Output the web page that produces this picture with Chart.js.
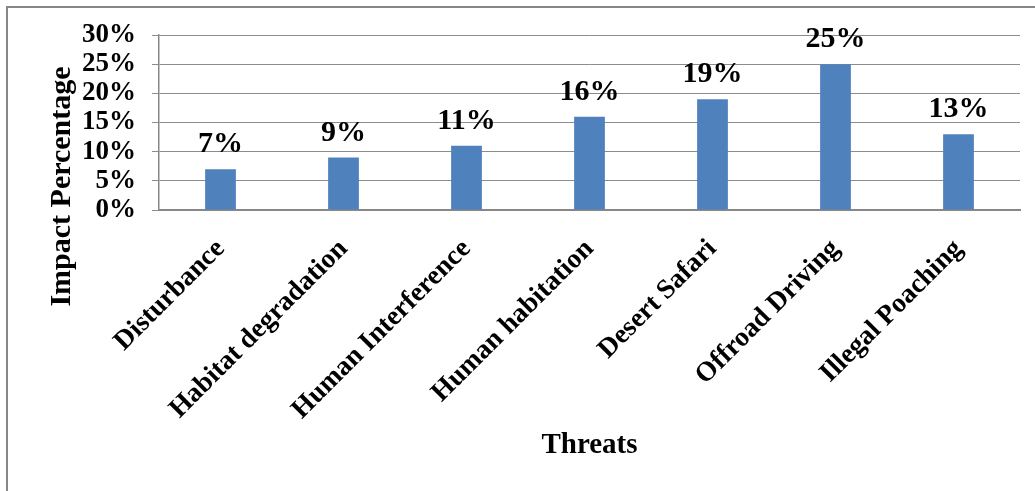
<!DOCTYPE html>
<html>
<head>
<meta charset="utf-8">
<script src="https://cdn.jsdelivr.net/npm/chart.js@4/dist/chart.umd.min.js"></script>
<style>
  html, body { margin: 0; padding: 0; background: #fff; overflow: hidden; }
  #wrap { position: relative; width: 1035px; height: 491px; }
  #frame { position: absolute; left: 6px; top: 6px; width: 2000px; height: 2000px;
           border-left: 2px solid #878787; border-top: 2px solid #878787; box-sizing: border-box; }
  canvas { position: absolute; left: 0; top: 0; }
</style>
</head>
<body>
<div id="wrap">
  <div id="frame"></div>
  <canvas id="c" width="1035" height="491"></canvas>
</div>
<script>
const categories = ['Disturbance', 'Habitat degradation', 'Human Interference', 'Human habitation', 'Desert Safari', 'Offroad Driving', 'Illegal Poaching'];
const impactValues = [7, 9, 11, 16, 19, 25, 13];
const yTickLabels = ['0%', '5%', '10%', '15%', '20%', '25%', '30%'];
const yTitle = 'Impact Percentage';
const xTitle = 'Threats';

const FONT = "'Liberation Serif', 'Times New Roman', serif";

const valueLabels = {
  id: 'valueLabels',
  afterDatasetsDraw(chart) {
    const ctx = chart.ctx;
    const meta = chart.getDatasetMeta(0);
    ctx.save();
    ctx.font = "bold 30px " + FONT;
    ctx.fillStyle = '#000';
    ctx.textAlign = 'center';
    ctx.textBaseline = 'alphabetic';
    meta.data.forEach((bar, i) => {
      ctx.fillText(impactValues[i] + '%', bar.x, bar.y - 17);
    });
    ctx.restore();
  }
};

// Y-axis title drawn beside the axis, centred a little below the plot middle as in the original
const yAxisTitle = {
  id: 'yAxisTitle',
  afterDraw(chart) {
    const ctx = chart.ctx;
    const y = chart.scales.y;
    ctx.save();
    ctx.font = "bold 30px " + FONT;
    ctx.fillStyle = '#000';
    ctx.textAlign = 'center';
    ctx.textBaseline = 'middle';
    ctx.translate(y.left + 62, (y.top + y.bottom) / 2 + 64);
    ctx.rotate(-Math.PI / 2);
    ctx.fillText(yTitle, 0, 0);
    ctx.restore();
  }
};

new Chart(document.getElementById('c'), {
  type: 'bar',
  data: {
    labels: categories,
    datasets: [{
      data: impactValues,
      backgroundColor: '#4F81BD',
      borderWidth: 0,
      barPercentage: 0.25,
      categoryPercentage: 1.0
    }]
  },
  options: {
    responsive: false,
    animation: false,
    devicePixelRatio: 1,
    layout: { padding: { left: 0, top: 35, right: 15, bottom: 0 } },
    plugins: { legend: { display: false }, tooltip: { enabled: false } },
    scales: {
      x: {
        grid: { display: false, drawTicks: false },
        border: { display: true, color: '#888888', width: 2 },
        ticks: {
          autoSkip: false, maxRotation: 45, minRotation: 45,
          color: '#000', padding: 23,
          font: { family: FONT, size: 27.5, weight: 'bold' }
        },
        title: {
          display: true, text: xTitle, color: '#000',
          font: { family: FONT, size: 29, weight: 'bold' },
          padding: { top: 0, bottom: 28 }
        },
        afterFit(scale) { scale.height = 281; }
      },
      y: {
        min: 0, max: 30,
        grid: { color: '#8c8c8c', lineWidth: 1, tickLength: 7, drawTicks: true },
        border: { display: true, color: '#888888', width: 1.5 },
        ticks: {
          stepSize: 5, autoSkip: false, color: '#000', padding: 16,
          font: { family: FONT, size: 27, weight: 'bold' },
          callback: (v, i) => yTickLabels[i]
        },
        title: { display: false },
        afterFit(scale) { scale.width = 159; }
      }
    }
  },
  plugins: [valueLabels, yAxisTitle]
});
</script>
</body>
</html>
